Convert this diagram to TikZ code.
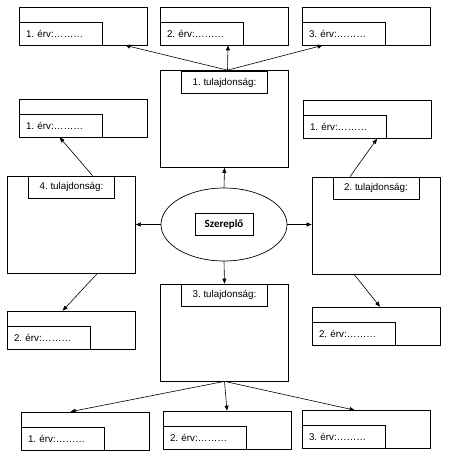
\documentclass[tikz,border=0pt]{standalone}
\usepackage{fontspec}
\setmainfont{Liberation Sans}
\newfontfamily\szfont{Carlito}
\usepackage{tikz}
\usetikzlibrary{arrows.meta,shapes.geometric,calc}
\frenchspacing

\begin{document}
\begin{tikzpicture}[
  x=1pt, y=-1pt,
  every node/.style={line width=0.7pt},
  argbox/.style={draw, minimum width=128pt, minimum height=38pt, inner sep=0pt},
  arglabel/.style={draw, anchor=south west, minimum width=83pt, minimum height=23pt,
                   text width=69pt, inner xsep=7pt, inner ysep=0pt, align=left,
                   font=\fontsize{9.8}{11}\selectfont},
  propbox/.style={draw, minimum width=128pt, minimum height=97pt, inner sep=0pt},
  proplabel/.style={draw, anchor=north, minimum width=86pt, minimum height=22pt,
                    inner sep=0pt, font=\fontsize{9.8}{11}\selectfont},
  arrow/.style={-{Triangle[length=5pt,width=4pt]}, line width=0.6pt},
]
\useasboundingbox (0,0) rectangle (450,463);

% center
\node[draw, ellipse, minimum width=126pt, minimum height=73pt, inner sep=0pt] (S) at (224,224.5) {};
\node[draw, minimum width=58pt, minimum height=22pt, inner sep=0pt,
      font=\szfont\bfseries\fontsize{11}{12}\selectfont] (St) at (S.center) {Szereplő};

% properties
\node[propbox] (P1) at (224.5,119) {};
\node[proplabel] (P1t) at ([yshift=-1pt]P1.north) {1. tulajdonság:};
\node[propbox] (P2) at (376,225.5) {};
\node[proplabel] (P2t) at (P2.north) {2. tulajdonság:};
\node[propbox] (P3) at (224.5,332.5) {};
\node[proplabel] (P3t) at (P3.north) {3. tulajdonság:};
\node[propbox] (P4) at (71.5,224.5) {};
\node[proplabel] (P4t) at (P4.north) {4. tulajdonság:};

% arguments of 1.
\node[argbox] (E11) at (83,26) {};
\node[arglabel] (E11t) at (E11.south west) {1. érv:………};
\node[argbox] (E12) at (224,26) {};
\node[arglabel] (E12t) at (E12.south west) {2. érv:………};
\node[argbox] (E13) at (366,26) {};
\node[arglabel] (E13t) at (E13.south west) {3. érv:………};

% arguments of 2.
\node[argbox] (E21) at (367,119.5) {};
\node[arglabel] (E21t) at (E21.south west) {1. érv:………};
\node[argbox] (E22) at (376,326) {};
\node[arglabel] (E22t) at (E22.south west) {2. érv:………};

% arguments of 3.
\node[argbox] (E31) at (85,431) {};
\node[arglabel] (E31t) at (E31.south west) {1. érv:………};
\node[argbox] (E32) at (227,430) {};
\node[arglabel] (E32t) at (E32.south west) {2. érv:………};
\node[argbox] (E33) at (366,429.5) {};
\node[arglabel] (E33t) at (E33.south west) {3. érv:………};

% arguments of 4.
\node[argbox] (E41) at (83,118) {};
\node[arglabel] (E41t) at (E41.south west) {1. érv:………};
\node[argbox] (E42) at (71,330) {};
\node[arglabel] (E42t) at (E42.south west) {2. érv:………};

% connectors
\draw[arrow] (S.north) -- (P1.south);
\draw[arrow] (S.south) -- (P3.north);
\draw[arrow] (S.west) -- (S.west -| P4.east);
\draw[arrow] (S.east) -- (S.east -| P2.west);

\draw[arrow] ([xshift=3pt]P1.north) -- ([xshift=-22pt]E11.south east);
\draw[arrow] ([xshift=3pt]P1.north) -- ([xshift=4pt]E12.south);
\draw[arrow] ([xshift=3pt]P1.north) -- ([xshift=21pt]E13.south west);

\draw[arrow] ([xshift=-26pt]P2.north) -- ([xshift=10pt]E21.south);
\draw[arrow] ([xshift=-22pt]P2.south) -- ([xshift=4pt]E22.north);

\draw[arrow] (P3.south) -- ([xshift=50pt]E31.north west);
\draw[arrow] (P3.south) -- (E32.north);
\draw[arrow] (P3.south) -- ([xshift=53pt]E33.north west);

\draw[arrow] ([xshift=21pt]P4.north) -- ([xshift=41pt]E41.south west);
\draw[arrow] ([xshift=26pt]P4.south) -- ([xshift=56pt]E42.north west);
\end{tikzpicture}
\end{document}
